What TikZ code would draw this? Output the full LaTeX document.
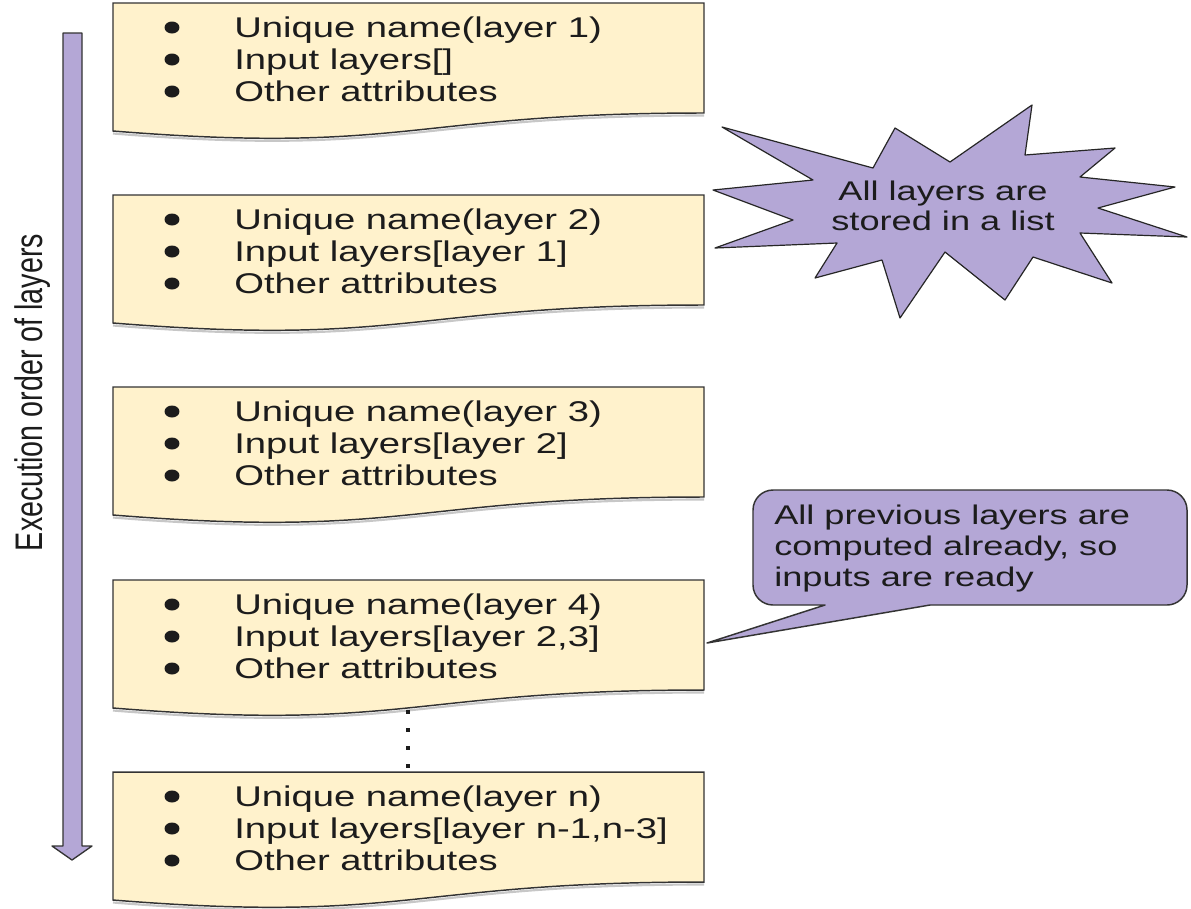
\documentclass[tikz,border=0pt]{standalone}
\usepackage{fontspec}
\setmainfont{Liberation Sans}
\usepackage{graphicx}
\definecolor{boxfill}{HTML}{FFF2CC}
\definecolor{purp}{HTML}{B4A7D6}
\definecolor{edge}{HTML}{333333}
\definecolor{ink}{HTML}{1C1C1C}
\newcommand{\hs}[1]{\scalebox{1.34}[1]{#1}}
\newcommand{\layerbox}[5]{%
  \draw[boxshadow] (704,#2+112.5) .. controls (408.5,#2+112.5) and (408.5,#2+154.2) .. (113,#2+130.5);
  \draw[docbox] (113,#2) -- (704,#2) -- (704,#2+110) .. controls (408.5,#2+110) and (408.5,#2+151.7) .. (113,#2+128) -- cycle;
  \coordinate (#1-top) at (408,#2);
  \coordinate (#1-bot) at (408,#2+128);
  \foreach \k in {0,1,2}{\fill[ink] (172,#2+24.5+32*\k) ellipse [x radius=5.6pt, y radius=4.5pt];}
  \node[boxtext] (#1-text) at (234,#2+34.5) {\hs{\begin{tabular}[t]{@{}l@{}}#3\\#4\\#5\end{tabular}}};
}
\begin{document}
\begin{tikzpicture}[x=0.75pt,y=-0.75pt,
  docbox/.style={fill=boxfill, draw=edge, line width=1.1pt},
  boxshadow/.style={draw=black!22, line width=1.6pt},
  purpshape/.style={fill=purp, draw=edge, line width=1pt, line join=round},
  boxtext/.style={anchor=base west, inner sep=0pt, text=ink, font=\fontsize{21.4}{24}\selectfont},
  smalltext/.style={inner sep=0pt, text=ink, font=\fontsize{20.25}{22.5}\selectfont}]
\fill[white] (0,0) rectangle (1191,908);
\useasboundingbox (0,0) rectangle (1191,908);

% execution arrow
\draw[purpshape] (63,33) -- (82,33) -- (82,846) -- (92,846) -- (72,860) -- (52,846) -- (63,846) -- cycle;
\node[rotate=90, anchor=base, inner sep=0pt, text=ink, font=\fontsize{21.5}{24}\selectfont] (exec) at (42,392.5) {\scalebox{1}[1.34]{Execution order of layers}};

% layer boxes
\layerbox{b1}{3}{Unique name(layer 1)}{Input layers[]}{Other attributes}
\layerbox{b2}{195}{Unique name(layer 2)}{Input layers[layer 1]}{Other attributes}
\layerbox{b3}{387}{Unique name(layer 3)}{Input layers[layer 2]}{Other attributes}
\layerbox{b4}{580}{Unique name(layer 4)}{Input layers[layer 2,3]}{Other attributes}
\layerbox{bn}{772}{Unique name(layer n)}{Input layers[layer n-1,n-3]}{Other attributes}

% dotted continuation
\draw[ink, line width=3pt, dash pattern=on 3pt off 10.5pt, shorten <=1.5pt] (b4-bot) -- (bn-top);

% star
\draw[purpshape, draw=black!85, line width=0.9pt] (722,127) -- (873,168) -- (895,128) -- (950,162) -- (1032,105) -- (1025,155)
  -- (1115,148) -- (1080,177) -- (1175,187) -- (1098,208) -- (1187,237) -- (1080,233)
  -- (1112,283) -- (1033,257) -- (1005,300) -- (945,252) -- (900,318) -- (882,260)
  -- (815,278) -- (837,243) -- (715,248) -- (793,220) -- (713,190) -- (813,180) -- cycle;
\node[smalltext, anchor=base] (startext) at (943,200) {\hs{\begin{tabular}[t]{@{}c@{}}All layers are\\stored in a list\end{tabular}}};

% callout
\coordinate (tip) at (707,643);
\draw[purpshape, line width=1.1pt] (tip) -- (825,605) -- (773,605) .. controls (762,605) and (753,596) .. (753,585)
  -- (753,510) .. controls (753,499) and (762,490) .. (773,490) -- (1167,490)
  .. controls (1178,490) and (1187,499) .. (1187,510) -- (1187,585)
  .. controls (1187,596) and (1178,605) .. (1167,605) -- (930,605) -- cycle;
\node[smalltext, anchor=base west, font=\fontsize{20.25}{23.6}\selectfont] (calltext) at (774,524) {\hs{\begin{tabular}[t]{@{}l@{}}All previous layers are\\computed already, so\\inputs are ready\end{tabular}}};
\end{tikzpicture}
\end{document}
